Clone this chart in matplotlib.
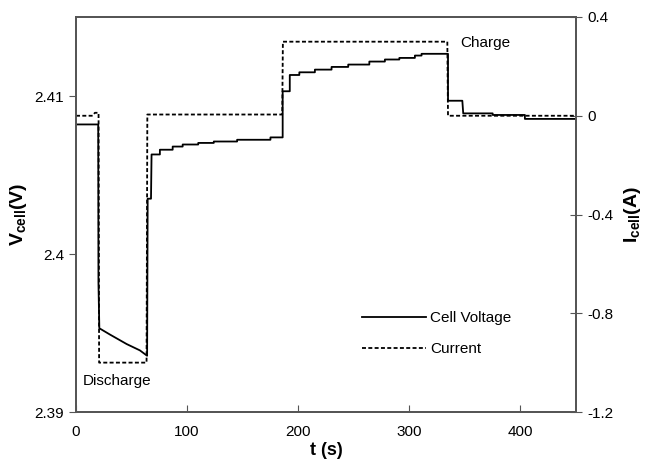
import matplotlib
matplotlib.use("Agg")
from matplotlib import pyplot as plt
from matplotlib.ticker import FixedLocator, FormatStrFormatter

plt.rcParams["font.family"] = ["Liberation Sans", "DejaVu Sans"]
plt.rcParams["axes.unicode_minus"] = False
plt.rcParams["mathtext.fontset"] = "custom"
plt.rcParams["mathtext.rm"] = "Liberation Sans"
plt.rcParams["mathtext.bf"] = "Liberation Sans:bold"

# cell voltage trace (s, V)
time_v = [0, 20, 20.2, 21.0, 30.6, 45.6, 57.5, 64.0, 64.5, 67.5, 68.0,
          75.5, 75.5, 87, 87, 96, 96, 110, 110, 124, 124, 145, 145, 175, 175,
          186, 186, 192.4, 192.4, 201, 201, 215, 215, 230, 230, 245, 245,
          264, 264, 278, 278, 291, 291, 305, 305, 311, 311, 334.8, 334.8,
          347.7, 348.5, 375, 375, 404, 404, 450]
volt = [2.4082, 2.4082, 2.3982, 2.3953, 2.3949, 2.3943, 2.3939, 2.39356,
        2.4035, 2.4035, 2.4063, 2.4063, 2.4066, 2.4066, 2.4068, 2.4068,
        2.40693, 2.40693, 2.40703, 2.40703, 2.40712, 2.40712, 2.40723,
        2.40723, 2.40738, 2.40738, 2.4103, 2.4103, 2.41133, 2.41133, 2.4115,
        2.4115, 2.41167, 2.41167, 2.41184, 2.41184, 2.41199, 2.41199,
        2.41218, 2.41218, 2.41231, 2.41231, 2.41241, 2.41241, 2.41256,
        2.41256, 2.41267, 2.41267, 2.4097, 2.4097, 2.4089, 2.4089, 2.4088,
        2.4088, 2.40855, 2.40855]

# applied current (s, A)
time_i = [0, 15, 17, 20.3, 20.8, 63.5, 64.2, 185.6, 186.2, 334.2, 334.8, 450]
curr = [0, 0, 0.012, 0.012, -1.0, -1.0, 0.005, 0.005, 0.3, 0.3, 0, 0]

x_ticks = [0, 100, 200, 300, 400]
v_ticks = [2.39, 2.40, 2.41]
i_ticks = [0.4, 0, -0.4, -0.8, -1.2]

spine_col = "#555555"
fig = plt.figure(figsize=(6.49, 4.75), dpi=100)
ax = fig.add_axes([76 / 649, 1 - 412 / 475, 500 / 649, 395 / 475])
ax2 = ax.twinx()

l1, = ax.plot(time_v, volt, color="black", lw=1.3, label="Cell Voltage")
l2, = ax2.plot(time_i, curr, color="black", lw=1.3, dashes=(2.2, 1.3),
               label="Current")

ax.set_xlim(0, 450)
ax.set_ylim(2.39, 2.415)
ax2.set_ylim(-1.2, 0.4)

ax.xaxis.set_major_locator(FixedLocator(x_ticks))
ax.yaxis.set_major_locator(FixedLocator(v_ticks))
ax.yaxis.set_major_formatter(FormatStrFormatter("%g"))
ax2.yaxis.set_major_locator(FixedLocator(i_ticks))
ax2.yaxis.set_major_formatter(FormatStrFormatter("%g"))

ax.tick_params(axis="x", direction="in", length=5, color=spine_col,
               labelsize=11, pad=9.5)
ax.tick_params(axis="y", direction="out", length=5, color=spine_col,
               labelsize=11)
ax2.tick_params(axis="y", direction="inout", length=9, color=spine_col,
                labelsize=11)

for a in (ax, ax2):
    for s in a.spines.values():
        s.set_color(spine_col)
        s.set_linewidth(1.3)

ax.set_xlabel("t (s)", fontsize=13, fontweight="bold", labelpad=2)
ax.set_ylabel(r"$\mathbf{V_{cell}(V)}$", fontsize=14, labelpad=4)
ax2.set_ylabel(r"$\mathbf{I_{cell}(A)}$", fontsize=14, labelpad=6)

ax.text(6.3, 2.39197, "Discharge", fontsize=11, va="center", ha="left")
ax.text(346, 2.41336, "Charge", fontsize=11, va="center", ha="left")

ax.legend(handles=[l1, l2], loc="upper left", bbox_to_anchor=(0.572, 0.255),
          frameon=False, fontsize=11, handlelength=4.2, handletextpad=0.25,
          labelspacing=1.1, borderpad=0, borderaxespad=0)

fig.savefig("out.png", dpi=100)
